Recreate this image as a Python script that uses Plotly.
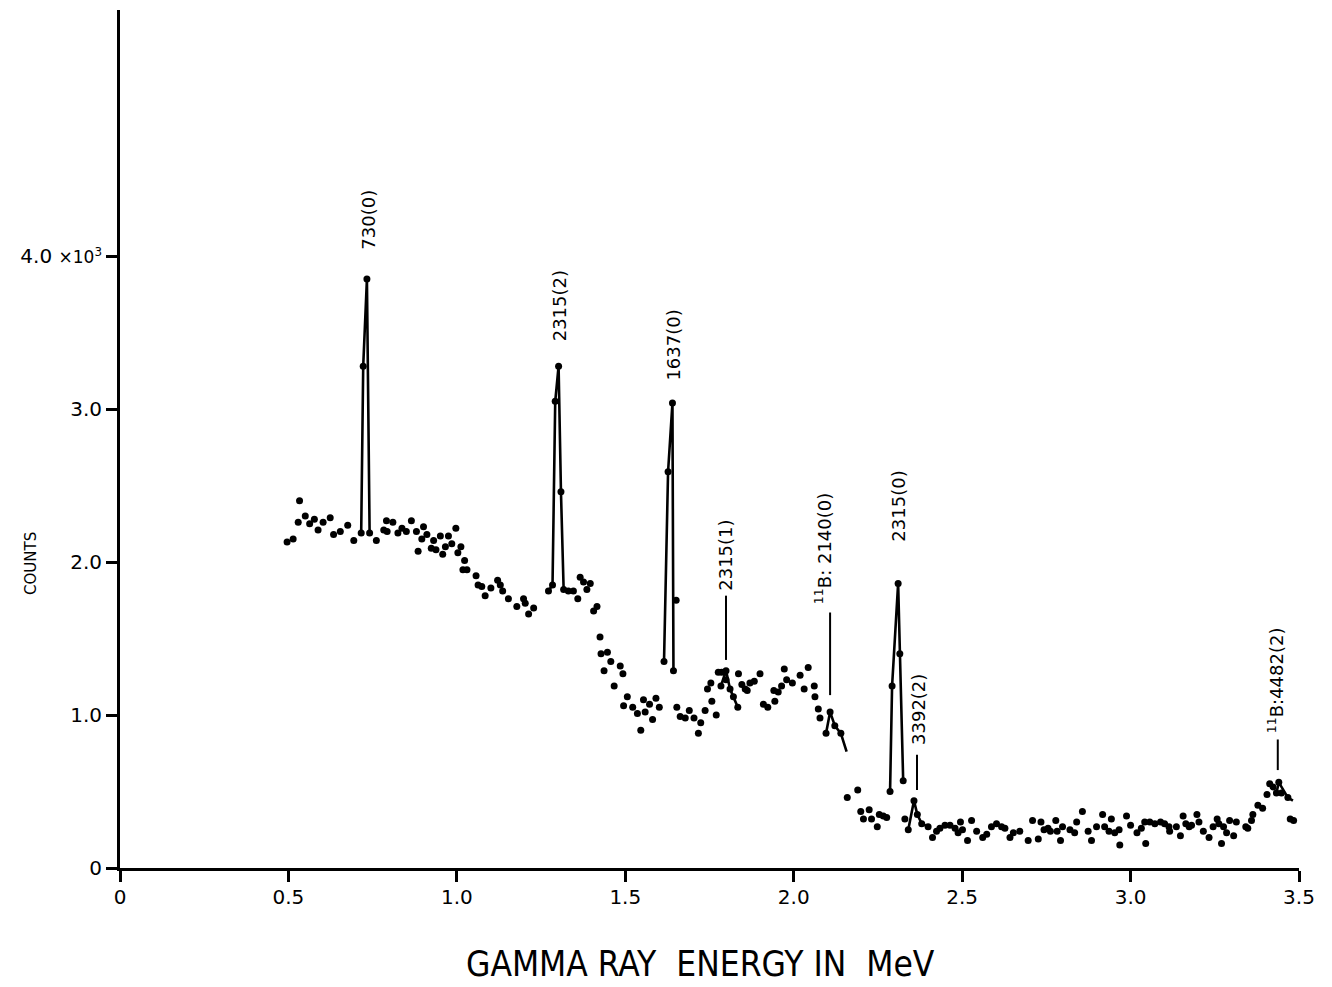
import plotly.graph_objects as go

# ---- background spectrum points (energy in MeV, counts in 10^3) ----
bg_energy = [
    0.496, 0.514, 0.529, 0.533, 0.550, 0.563, 0.577, 0.588, 0.603, 0.624,
    0.634, 0.654, 0.676, 0.694,
    0.761, 0.783, 0.791, 0.793, 0.810, 0.825, 0.837, 0.850, 0.865, 0.880,
    0.885, 0.896, 0.901, 0.911, 0.924, 0.931, 0.938, 0.951, 0.958, 0.966,
    0.975, 0.985, 0.997, 1.003, 1.012, 1.018, 1.023, 1.030, 1.057, 1.063,
    1.074, 1.084, 1.101, 1.121, 1.129, 1.136, 1.153, 1.178, 1.198, 1.203,
    1.213, 1.228,
    1.331, 1.346, 1.359, 1.366, 1.376, 1.386, 1.396, 1.406, 1.416, 1.425,
    1.428, 1.437, 1.447, 1.457, 1.467, 1.485, 1.493, 1.495, 1.506, 1.522,
    1.536, 1.546, 1.554, 1.559, 1.572, 1.581, 1.591, 1.601,
    1.651,
    1.653, 1.663, 1.678, 1.690, 1.704, 1.717, 1.724, 1.737, 1.744, 1.754,
    1.757, 1.770, 1.776, 1.786, 1.799,
    1.836, 1.846, 1.856, 1.862, 1.870, 1.883, 1.900, 1.910, 1.923, 1.941,
    1.944, 1.954, 1.964, 1.972, 1.979, 1.996, 2.019, 2.031, 2.043, 2.061,
    2.063, 2.073, 2.078,
    2.159, 2.190, 2.199, 2.207, 2.224, 2.231, 2.248, 2.254, 2.266, 2.276,
    2.330,
    2.412, 2.424, 2.434, 2.449, 2.464, 2.479, 2.488, 2.495, 2.501, 2.516,
    2.528, 2.543, 2.561, 2.573, 2.587, 2.602, 2.617, 2.627, 2.642, 2.652,
    2.671, 2.696, 2.709, 2.726, 2.734, 2.743, 2.755, 2.762, 2.778, 2.782,
    2.792, 2.798, 2.820, 2.834, 2.840, 2.857, 2.874, 2.884, 2.899, 2.917,
    2.923, 2.936, 2.943, 2.953, 2.966, 2.968, 2.988, 3.000, 3.019, 3.032,
    3.042, 3.045, 3.057, 3.072, 3.089, 3.101, 3.114, 3.116, 3.136, 3.148,
    3.156, 3.164, 3.174, 3.181, 3.197, 3.203, 3.216, 3.233, 3.245, 3.257,
    3.262, 3.270, 3.276, 3.285, 3.294, 3.306, 3.314, 3.342, 3.348, 3.359,
    3.363, 3.378, 3.392, 3.405, 3.413, 3.423, 3.448, 3.474, 3.484,
]
bg_counts = [
    2.13, 2.15, 2.26, 2.40, 2.30, 2.25, 2.28, 2.21, 2.26, 2.29,
    2.18, 2.20, 2.24, 2.14,
    2.14, 2.21, 2.27, 2.20, 2.26, 2.19, 2.22, 2.20, 2.27, 2.20,
    2.07, 2.15, 2.23, 2.18, 2.09, 2.14, 2.08, 2.17, 2.05, 2.10,
    2.17, 2.12, 2.22, 2.06, 2.10, 1.95, 2.01, 1.95, 1.91, 1.85,
    1.84, 1.78, 1.83, 1.88, 1.85, 1.81, 1.76, 1.71, 1.76, 1.73,
    1.66, 1.70,
    1.81, 1.81, 1.76, 1.90, 1.87, 1.82, 1.86, 1.68, 1.71, 1.51,
    1.40, 1.29, 1.41, 1.35, 1.19, 1.32, 1.27, 1.06, 1.12, 1.05,
    1.01, 0.90, 1.10, 1.02, 1.07, 0.97, 1.11, 1.05,
    1.75,
    1.05, 0.99, 0.98, 1.03, 0.98, 0.88, 0.95, 1.03, 1.17, 1.21,
    1.09, 1.00, 1.28, 1.28, 1.23,
    1.27, 1.20, 1.17, 1.16, 1.21, 1.22, 1.27, 1.07, 1.05, 1.16,
    1.09, 1.15, 1.19, 1.30, 1.23, 1.21, 1.26, 1.17, 1.31, 1.19,
    1.12, 1.04, 0.98,
    0.46, 0.51, 0.37, 0.32, 0.38, 0.32, 0.27, 0.35, 0.34, 0.33,
    0.32,
    0.20, 0.24, 0.26, 0.28, 0.28, 0.26, 0.23, 0.30, 0.25, 0.18,
    0.31, 0.24, 0.20, 0.22, 0.27, 0.29, 0.27, 0.26, 0.20, 0.23,
    0.24, 0.18, 0.31, 0.19, 0.30, 0.25, 0.26, 0.24, 0.31, 0.24,
    0.18, 0.27, 0.25, 0.23, 0.30, 0.37, 0.24, 0.18, 0.27, 0.35,
    0.27, 0.24, 0.32, 0.23, 0.25, 0.15, 0.34, 0.28, 0.23, 0.26,
    0.30, 0.16, 0.30, 0.29, 0.30, 0.29, 0.27, 0.24, 0.27, 0.21,
    0.34, 0.29, 0.27, 0.28, 0.35, 0.30, 0.24, 0.20, 0.27, 0.32,
    0.29, 0.16, 0.27, 0.23, 0.31, 0.21, 0.30, 0.27, 0.26, 0.31,
    0.35, 0.41, 0.39, 0.48, 0.55, 0.53, 0.49, 0.32, 0.31,
]

# ---- peaks drawn with connecting lines ----
peak_730_e = [0.716, 0.722, 0.733, 0.741]
peak_730_c = [2.19, 3.28, 3.85, 2.19]
peak_2315_2_e = [1.272, 1.284, 1.292, 1.302, 1.309, 1.317]
peak_2315_2_c = [1.81, 1.85, 3.05, 3.28, 2.46, 1.82]
peak_1637_e = [1.615, 1.627, 1.640, 1.643]
peak_1637_c = [1.35, 2.59, 3.04, 1.29]
peak_2315_1_e = [1.784, 1.799, 1.811, 1.821, 1.834]
peak_2315_1_c = [1.19, 1.29, 1.17, 1.12, 1.05]
peak_2140_e = [2.096, 2.108, 2.122, 2.140, 2.157]
peak_2140_c = [0.88, 1.02, 0.93, 0.88, 0.76]
peak_2315_0_e = [2.286, 2.292, 2.310, 2.315, 2.325]
peak_2315_0_c = [0.50, 1.19, 1.86, 1.40, 0.57]
peak_3392_e = [2.340, 2.357, 2.367, 2.380, 2.399]
peak_3392_c = [0.25, 0.44, 0.35, 0.29, 0.27]
peak_4482_e = [3.433, 3.440, 3.467, 3.482]
peak_4482_c = [0.49, 0.56, 0.46, 0.44]

peaks = [
    (peak_730_e, peak_730_c, True),
    (peak_2315_2_e, peak_2315_2_c, True),
    (peak_1637_e, peak_1637_c, True),
    (peak_2315_1_e, peak_2315_1_c, True),
    (peak_2140_e, peak_2140_c, False),
    (peak_2315_0_e, peak_2315_0_c, True),
    (peak_3392_e, peak_3392_c, True),
    (peak_4482_e, peak_4482_c, False),
]

# ---- line labels ----
label_text = ["730(0)", "2315(2)", "1637(0)", "2315(1)",
              "<sup>11</sup>B: 2140(0)", "2315(0)", "3392(2)",
              "<sup>11</sup>B:4482(2)"]
label_x = [0.737, 1.305, 1.642, 1.795, 2.088, 2.311, 2.370, 3.430]
label_y = [4.03, 3.43, 3.17, 1.80, 1.71, 2.12, 0.79, 0.87]
leader_x = [None, None, None, 1.799, 2.108, None, 2.366, 3.437]
leader_y0 = [None, None, None, 1.36, 1.13, None, 0.51, 0.64]
leader_y1 = [None, None, None, 1.78, 1.67, None, 0.74, 0.84]

x_tickvals = [0, 0.5, 1.0, 1.5, 2.0, 2.5, 3.0, 3.5]
x_ticktext = ["0", "0.5", "1.0", "1.5", "2.0", "2.5", "3.0", "3.5"]
y_tickvals = [0, 1, 2, 3, 4]
y_ticktext = ["0", "1.0", "2.0", "3.0",
              "4.0 <span style='font-size:17px'>×10<sup>3</sup></span>"]

x_title = "GAMMA RAY  ENERGY IN  MeV"
y_title = "COUNTS"

FONT = "DejaVu Sans, sans-serif"
COND = "DejaVu Sans Condensed, DejaVu Sans, sans-serif"

fig = go.Figure()

for e, c, with_end_marker in peaks:
    fig.add_trace(go.Scatter(x=e, y=c, mode="lines",
                             line=dict(color="black", width=2.6),
                             hoverinfo="skip", showlegend=False))
    me = e if with_end_marker else e[:-1]
    mc = c if with_end_marker else c[:-1]
    fig.add_trace(go.Scatter(x=me, y=mc, mode="markers",
                             marker=dict(color="black", size=7),
                             showlegend=False))

fig.add_trace(go.Scatter(x=bg_energy, y=bg_counts, mode="markers",
                         marker=dict(color="black", size=7),
                         showlegend=False))

shapes = []
for lx, y0, y1 in zip(leader_x, leader_y0, leader_y1):
    if lx is None:
        continue
    shapes.append(dict(type="line", xref="x", yref="y", x0=lx, x1=lx,
                       y0=y0, y1=y1, line=dict(color="black", width=2)))

annotations = []
for t, lx, ly in zip(label_text, label_x, label_y):
    annotations.append(dict(x=lx, y=ly, xref="x", yref="y", text=t,
                            showarrow=False, textangle=-90,
                            xanchor="center", yanchor="bottom",
                            font=dict(family=FONT, size=18, color="black")))

# axis titles
annotations.append(dict(x=0.492, y=-0.112, xref="paper", yref="paper",
                        text=x_title, showarrow=False,
                        xanchor="center", yanchor="middle",
                        font=dict(family=COND, size=35, color="black")))
annotations.append(dict(x=-0.076, y=1.99, xref="paper", yref="y",
                        text=y_title, showarrow=False, textangle=-90,
                        xanchor="center", yanchor="middle",
                        font=dict(family=FONT, size=15, color="black")))

fig.update_layout(
    width=1332, height=987,
    margin=dict(l=120, r=33, t=10, b=119),
    paper_bgcolor="white", plot_bgcolor="white",
    shapes=shapes, annotations=annotations,
    font=dict(family=FONT, color="black"),
    xaxis=dict(range=[0, 3.5], tickvals=x_tickvals, ticktext=x_ticktext,
               showgrid=False, zeroline=False, showline=True,
               linecolor="black", linewidth=3, ticks="outside",
               ticklen=11, tickwidth=3, tickcolor="black", automargin=False,
               ticklabelstandoff=-2,
               tickfont=dict(size=20, family=FONT)),
    yaxis=dict(range=[0, 5.608], tickvals=y_tickvals, ticktext=y_ticktext,
               showgrid=False, zeroline=False, showline=True,
               linecolor="black", linewidth=3, ticks="outside",
               ticklen=11, tickwidth=3, tickcolor="black", automargin=False,
               tickfont=dict(size=20, family=FONT)),
)

fig.write_html("out.html")
